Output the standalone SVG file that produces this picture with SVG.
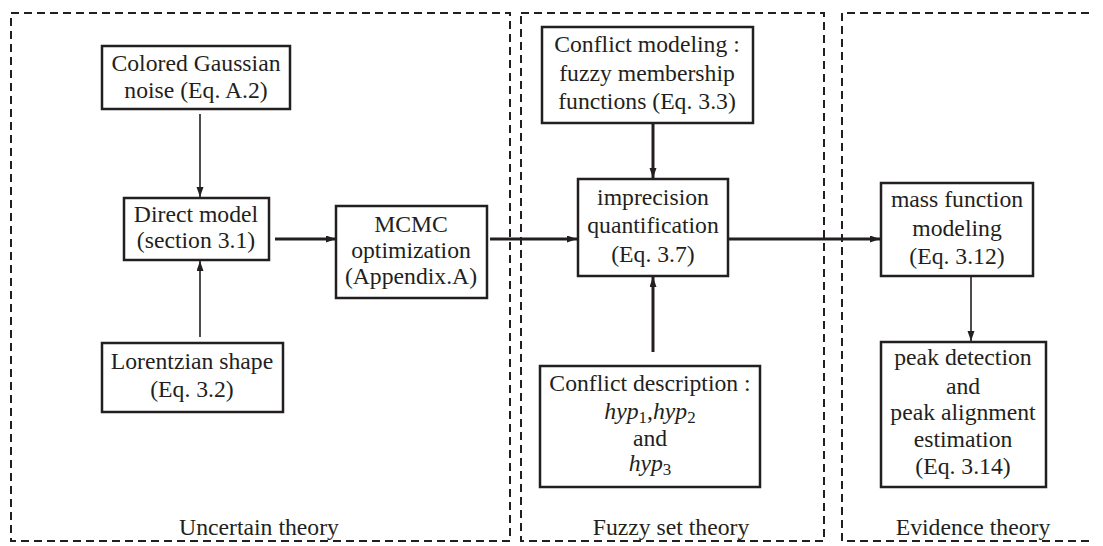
<svg xmlns="http://www.w3.org/2000/svg" width="1103" height="546" viewBox="0 0 1103 546" font-family="Liberation Serif, Times New Roman, Times, DejaVu Serif, serif">
<style>
text{font-family:'Liberation Serif','Times New Roman',Times,'DejaVu Serif',serif;font-size:23.7px;fill:#231f20;text-anchor:middle}
.box{fill:#fff;stroke:#231f20;stroke-width:2.5}
.region{fill:none;stroke:#231f20;stroke-width:2;stroke-dasharray:8 5}
.thin{stroke:#231f20;stroke-width:1.6;fill:none}
.thick{stroke:#231f20;stroke-width:3;fill:none}
.it{font-style:italic}
.sub{font-size:17px}
</style>
<defs>
<marker id="ah" markerUnits="userSpaceOnUse" markerWidth="10" markerHeight="8" refX="10" refY="3.5" orient="auto">
<path d="M0,0 L10,3.5 L0,7 z" fill="#231f20"/>
</marker>
</defs>
<rect width="1103" height="546" fill="#fff"/>
<g id="regions">
<rect class="region" x="11" y="13" width="499" height="528"/>
<rect class="region" x="521" y="13" width="303" height="528"/>
<path class="region" d="M1089,13 H842 V541 H1089"/>
<text x="259" y="535">Uncertain theory</text>
<text x="671" y="535">Fuzzy set theory</text>
<text x="973" y="535">Evidence theory</text>
</g>
<g id="connectors">
<line class="thin" x1="200" y1="114" x2="200" y2="197" marker-end="url(#ah)"/>
<line class="thin" x1="200" y1="337" x2="200" y2="261" marker-end="url(#ah)"/>
<line class="thick" x1="275" y1="239" x2="336" y2="239" marker-end="url(#ah)"/>
<line class="thick" x1="490" y1="239" x2="577" y2="239" marker-end="url(#ah)"/>
<line class="thick" x1="653" y1="124" x2="653" y2="178" marker-end="url(#ah)"/>
<line class="thick" x1="653" y1="352" x2="653" y2="277" marker-end="url(#ah)"/>
<line class="thick" x1="728" y1="239" x2="880" y2="239" marker-end="url(#ah)"/>
<line class="thin" x1="971" y1="277" x2="971" y2="341" marker-end="url(#ah)"/>
</g>
<g id="noise">
<rect class="box" x="102" y="46" width="188" height="63"/>
<text x="196" y="71">Colored Gaussian</text>
<text x="196" y="98">noise (Eq. A.2)</text>
</g>
<g id="direct">
<rect class="box" x="124" y="198" width="145" height="62"/>
<text x="196" y="222">Direct model</text>
<text x="196" y="248">(section 3.1)</text>
</g>
<g id="lorentzian">
<rect class="box" x="102" y="343" width="181" height="69"/>
<text x="192" y="369">Lorentzian shape</text>
<text x="192" y="397">(Eq. 3.2)</text>
</g>
<g id="mcmc">
<rect class="box" x="336" y="206" width="151" height="92"/>
<text x="411" y="232">MCMC</text>
<text x="411" y="258">optimization</text>
<text x="411" y="284">(Appendix.A)</text>
</g>
<g id="conflict-modeling">
<rect class="box" x="542" y="27" width="211" height="96"/>
<text x="647" y="52">Conflict modeling :</text>
<text x="647" y="81">fuzzy membership</text>
<text x="647" y="109">functions (Eq. 3.3)</text>
</g>
<g id="imprecision">
<rect class="box" x="578" y="179" width="150" height="97"/>
<text x="653" y="205">imprecision</text>
<text x="653" y="233">quantification</text>
<text x="653" y="262">(Eq. 3.7)</text>
</g>
<g id="conflict-description">
<rect class="box" x="540" y="366" width="220" height="121"/>
<text x="650" y="391">Conflict description :</text>
<text x="650" y="419"><tspan class="it">hyp</tspan><tspan class="sub" dy="4">1</tspan><tspan dy="-4">,</tspan><tspan class="it">hyp</tspan><tspan class="sub" dy="4">2</tspan></text>
<text x="650" y="446">and</text>
<text x="650" y="471"><tspan class="it">hyp</tspan><tspan class="sub" dy="4">3</tspan></text>
</g>
<g id="mass">
<rect class="box" x="881" y="183" width="152" height="93"/>
<text x="957" y="207">mass function</text>
<text x="957" y="236">modeling</text>
<text x="957" y="264">(Eq. 3.12)</text>
</g>
<g id="peak">
<rect class="box" x="881" y="342" width="165" height="145"/>
<text x="963" y="365">peak detection</text>
<text x="963" y="394">and</text>
<text x="963" y="420">peak alignment</text>
<text x="963" y="447">estimation</text>
<text x="963" y="474">(Eq. 3.14)</text>
</g>
</svg>
